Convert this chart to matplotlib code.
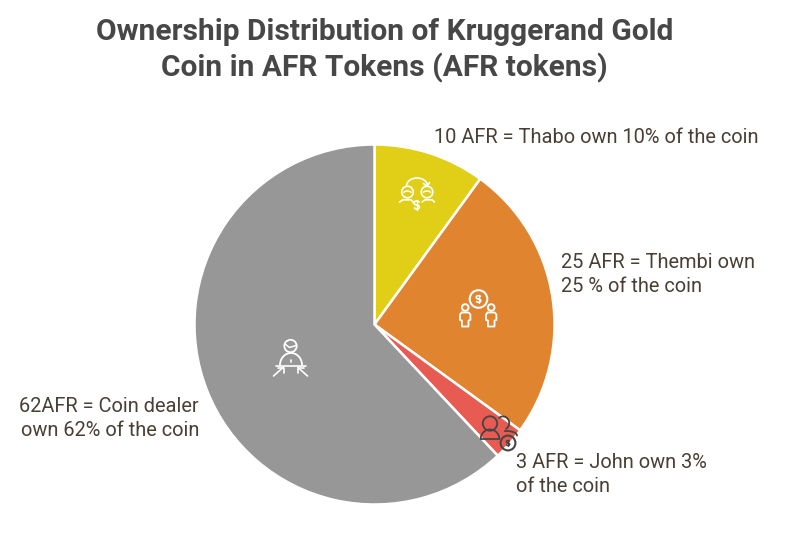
import numpy as np
import matplotlib
matplotlib.use("Agg")
import matplotlib.pyplot as plt
from matplotlib.patches import Circle

plt.rcParams['font.family'] = ['Roboto', 'DejaVu Sans']

W, H = 805, 554
title_lines = ["Ownership Distribution of Kruggerand Gold", "Coin in AFR Tokens (AFR tokens)"]
values = [10, 25, 3, 62]
colors = ["#E1CE17", "#E0842F", "#E85B52", "#979797"]
label_lines = [
    ["10 AFR = Thabo own 10% of the coin"],
    ["25 AFR = Thembi own", "25 % of the coin"],
    ["3 AFR = John own 3%", "of the coin"],
    ["62AFR = Coin dealer", "own 62% of the coin"],
]

fig = plt.figure(figsize=(W / 100, H / 100), dpi=100, facecolor="white")
ax = fig.add_axes([(374.5 - 180) / W, (H - 324.5 - 180) / H, 360 / W, 360 / H])
ax.pie(values, colors=colors, startangle=90, counterclock=False, radius=1,
       wedgeprops=dict(edgecolor="white", linewidth=1.8))
ax.set_xlim(-1, 1)
ax.set_ylim(-1, 1)
ax.set_aspect("equal")

ov = fig.add_axes([0, 0, 1, 1], facecolor="none")
ov.set_xlim(0, W)
ov.set_ylim(H, 0)
ov.axis("off")


def line(xs, ys, c="white", lw=1.2):
    ov.plot(xs, ys, color=c, lw=lw, solid_capstyle="round", solid_joinstyle="round")


def ring(x, y, r, c="white", lw=1.2):
    ov.add_patch(Circle((x, y), r, fill=False, ec=c, lw=lw))


def arc(x, y, rx, ry, t1, t2, c="white", lw=1.2):
    """Arc drawn counterclockwise on screen; angles in degrees, y pointing up."""
    t = np.radians(np.linspace(t1, t2, 40))
    line(x + rx * np.cos(t), y - ry * np.sin(t), c, lw)


def dollar(x, y, s=1.0, c="white", lw=1.2):
    arc(x, y - 2 * s, 2.6 * s, 2 * s, 30, 270, c, lw)
    arc(x, y + 2 * s, 2.6 * s, 2 * s, -150, 90, c, lw)
    line([x, x], [y - 5.2 * s, y + 5.2 * s], c, lw * 0.8)


# Yellow slice icon: two heads with an exchange arrow
for cx in (407.5, 427):
    ring(cx, 192, 5.8)
    arc(cx, 198, 6.5, 7, 55, 125, lw=1.1)
line([399.5, 403, 411, 413], [202, 199.8, 199.8, 202])
line([422, 425, 432, 434.5], [202, 199.8, 199.8, 202])
arc(417, 186, 10.5, 8, 5, 175)
line([423.5, 427, 429.5], [183.5, 186.5, 182.5])
dollar(416.7, 205, 1.0, lw=1.3)

# Orange slice icon: two figures and a coin
ring(478.5, 299, 8.8, lw=1.5)
dollar(478.5, 299, 0.85, lw=1.2)
for cx in (465.2, 491.2):
    ring(cx, 307.5, 3.3, lw=1.4)
    line([cx - 3.5, cx - 5.2, cx - 5.2, cx - 3.3, cx - 3.3, cx - 1, cx + 1, cx + 3.3, cx + 3.3, cx + 5.2, cx + 5.2, cx + 3.5, cx - 3.5],
         [312.5, 314.5, 320, 320.5, 326.5, 326.5, 326.5, 326.5, 320.5, 320, 314.5, 312.5, 312.5], lw=1.3)

# Red slice icon: two people and a coin (dark)
dk = "#454545"
ring(490, 423.5, 7.2, dk, 1.3)
arc(490, 439, 9.3, 9.5, 0, 180, dk, 1.3)
line([480.7, 499.3], [439, 439], dk, 1.3)
arc(503, 423, 6.2, 6.6, -60, 130, dk, 1.3)
arc(506.5, 435.5, 10.5, 4.5, 0, 100, dk, 1.3)
ring(508, 443, 7.4, dk, 1.5)
dollar(508, 443, 0.62, dk, 1.2)

# Grey slice icon: dealer with two arrows
ring(290.5, 346, 6.2, lw=1.3)
line([285, 289.5, 296], [344, 347.5, 345.5], lw=1.1)
arc(291, 365, 11, 12, 0, 180, lw=1.3)
line([276, 306], [365.5, 365.5], lw=1.2)
line([291, 291], [359.5, 362], lw=1.2)
line([273.5, 283], [376, 367.5])
line([277.5, 283.5, 283.5], [367.5, 367.5, 373])
line([307.5, 298], [376, 367.5])
line([303.5, 297.5, 297.5], [367.5, 367.5, 373])

# Title
for s, y in zip(title_lines, (32.3, 68.3)):
    ov.text(384.8, y, s, ha="center", va="center", fontsize=21.55, fontweight="bold", color="#474747")

# Labels
txt = "#4A3F35"
fs = 14.37
for s, y in zip(label_lines[0], (137.5,)):
    ov.text(434, y, s, ha="left", va="center", fontsize=fs, color=txt)
for s, y in zip(label_lines[1], (262, 286)):
    ov.text(561, y, s, ha="left", va="center", fontsize=fs, color=txt)
for s, y in zip(label_lines[2], (462, 486)):
    ov.text(516, y, s, ha="left", va="center", fontsize=fs, color=txt)
for s, y in zip(label_lines[3], (407, 431)):
    ov.text(199, y, s, ha="right", va="center", fontsize=fs, color=txt)

fig.savefig("out.png", dpi=100, facecolor="white")
